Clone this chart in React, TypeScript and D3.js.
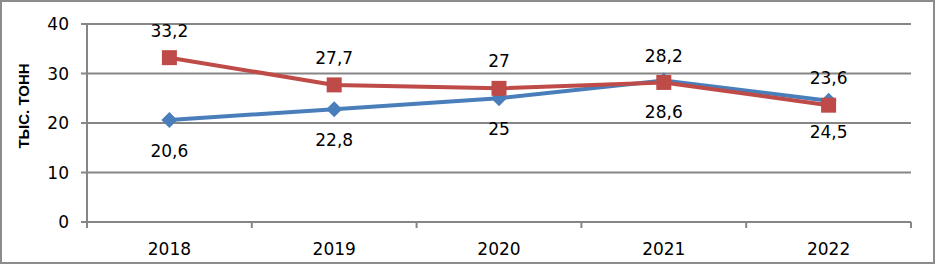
import React from "react";
import * as d3 from "d3";

const categories = ["2018", "2019", "2020", "2021", "2022"];
const blueValues = [20.6, 22.8, 25, 28.6, 24.5];
const redValues = [33.2, 27.7, 27, 28.2, 23.6];
const yTicks = [0, 10, 20, 30, 40];
const yTitle = "ТЫС. ТОНН";

const W = 936;
const H = 265;
const left = 87;
const right = 911;
const top = 24;
const bottom = 222;

const fmt = (v: number) => String(v).replace(".", ",");

export default function App() {
  const x = d3.scaleBand().domain(categories).range([left, right]);
  const y = d3.scaleLinear().domain([0, 40]).range([bottom, top]);
  const cx = (c: string) => (x(c) as number) + x.bandwidth() / 2;
  const line = d3
    .line<number>()
    .x((_, i) => cx(categories[i]))
    .y((d) => y(d));
  const font = "DejaVu Sans, sans-serif";
  const blue = "#4a7ebb";
  const red = "#be4b48";
  const grid = "#868686";
  const boundaries = [...categories.map((c) => x(c) as number), right];
  const fs = 17;

  return (
    <svg
      width={W}
      height={H}
      style={{ position: "fixed", left: 0, top: 0, background: "#fff" }}
    >
      <rect x={1} y={1} width={W - 3} height={H - 3} fill="#fff" stroke="#8c8c8c" strokeWidth={2} />
      {yTicks.map((t) => (
        <g key={t}>
          <line x1={left - 6} x2={right} y1={y(t)} y2={y(t)} stroke={grid} strokeWidth={2} />
          <text
            x={left - 18}
            y={y(t)}
            dy="0.36em"
            textAnchor="end"
            fontFamily={font}
            fontSize={fs}
            fill="#000"
          >
            {t}
          </text>
        </g>
      ))}
      <line x1={left} x2={left} y1={top} y2={bottom + 6} stroke={grid} strokeWidth={2} />
      {boundaries.map((b, i) => (
        <line key={i} x1={b} x2={b} y1={bottom} y2={bottom + 6} stroke={grid} strokeWidth={2} />
      ))}
      {categories.map((c) => (
        <text
          key={c}
          x={cx(c)}
          y={255}
          textAnchor="middle"
          fontFamily={font}
          fontSize={fs}
          fill="#000"
        >
          {c}
        </text>
      ))}
      <text
        transform={`translate(29,106) rotate(-90)`}
        textAnchor="middle"
        fontFamily="Liberation Sans, Arial, sans-serif"
        fontSize={15}
        fontWeight="bold"
        fill="#000"
      >
        {yTitle}
      </text>
      <path d={line(blueValues) || ""} fill="none" stroke={blue} strokeWidth={4} />
      <path d={line(redValues) || ""} fill="none" stroke={red} strokeWidth={4} />
      {blueValues.map((v, i) => {
        const px = cx(categories[i]);
        const py = y(v);
        const s = 8;
        return (
          <path
            key={"b" + i}
            d={`M${px},${py - s}L${px + s},${py}L${px},${py + s}L${px - s},${py}Z`}
            fill={blue}
          />
        );
      })}
      {redValues.map((v, i) => {
        const px = cx(categories[i]);
        const py = y(v);
        const s = 7.5;
        return <rect key={"r" + i} x={px - s} y={py - s} width={2 * s} height={2 * s} fill={red} />;
      })}
      {blueValues.map((v, i) => (
        <text
          key={"bl" + i}
          x={cx(categories[i])}
          y={y(v) + 31}
          dy="0.36em"
          textAnchor="middle"
          fontFamily={font}
          fontSize={fs}
          fill="#000"
        >
          {fmt(v)}
        </text>
      ))}
      {redValues.map((v, i) => (
        <text
          key={"rl" + i}
          x={cx(categories[i])}
          y={y(v) - 27}
          dy="0.36em"
          textAnchor="middle"
          fontFamily={font}
          fontSize={fs}
          fill="#000"
        >
          {fmt(v)}
        </text>
      ))}
    </svg>
  );
}
